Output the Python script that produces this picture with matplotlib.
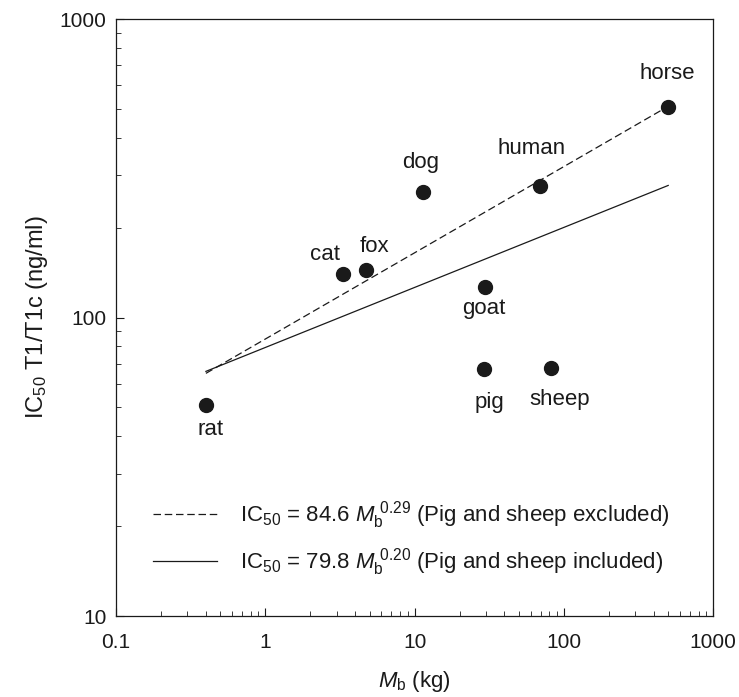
'''
IC50 of T1/T1c vs body mass, log-log scatter with two allometric fits
'''

import matplotlib
matplotlib.use('Agg')
import matplotlib.pyplot as plt
from matplotlib.ticker import LogLocator, FuncFormatter, NullFormatter

plt.rcParams['font.family'] = ['Liberation Sans', 'DejaVu Sans']
plt.rcParams['mathtext.fontset'] = 'custom'
plt.rcParams['mathtext.rm'] = 'Liberation Sans'
plt.rcParams['mathtext.it'] = 'Liberation Sans:italic'
plt.rcParams['mathtext.bf'] = 'Liberation Sans:bold'

#Species, body mass (kg) and IC50 (ng/ml)
species = ['rat', 'cat', 'fox', 'dog', 'human', 'horse', 'goat', 'pig', 'sheep']
mass = [0.4, 3.3, 4.7, 11.4, 69, 500, 29.7, 29.3, 82]
ic50 = [51, 140, 144, 263, 276, 507, 127, 67, 68]

#Fit lines, endpoints
fit_excl_x = [0.4, 500]
fit_excl_y = [65, 510]
fit_incl_x = [0.4, 500]
fit_incl_y = [66, 277]

#label offsets in points (dx, dy) relative to each dot
offsets = {'rat': (3, -18), 'cat': (-13, 14), 'fox': (6, 17), 'dog': (-2, 21),
           'human': (-6, 27), 'horse': (-1, 24), 'goat': (-1, -16),
           'pig': (4, -24), 'sheep': (6, -23)}

ink = '#1a1a1a'
fs = 15

fig = plt.figure(figsize=[7.39, 6.97], dpi=100)
ax = fig.add_axes([0.157, 0.1162, 0.808, 0.8565])

ax.plot(fit_excl_x, fit_excl_y, color=ink, lw=0.9, dashes=(6, 3),
        label=r'IC$_{50}$ = 84.6 $M_\mathrm{b}^{\ 0.29}$ (Pig and sheep excluded)')
ax.plot(fit_incl_x, fit_incl_y, color=ink, lw=0.9,
        label=r'IC$_{50}$ = 79.8 $M_\mathrm{b}^{\ 0.20}$ (Pig and sheep included)')
ax.plot(mass, ic50, 'o', color=ink, ms=10, zorder=3)

for s, m, v in zip(species, mass, ic50):
    ax.annotate(s, (m, v), xytext=offsets[s], textcoords='offset points',
                ha='center', va='center', fontsize=16, color=ink)

ax.set_xscale('log')
ax.set_yscale('log')
ax.set_xlim(0.1, 1000)
ax.set_ylim(10, 1000)

fmt = FuncFormatter(lambda v, p: '%g' % v)
ax.xaxis.set_major_locator(LogLocator(base=10, numticks=10))
ax.yaxis.set_major_locator(LogLocator(base=10, numticks=10))
ax.xaxis.set_minor_locator(LogLocator(base=10, subs=range(2, 10), numticks=10))
ax.yaxis.set_minor_locator(LogLocator(base=10, subs=range(2, 10), numticks=10))
ax.xaxis.set_major_formatter(fmt)
ax.yaxis.set_major_formatter(fmt)
ax.xaxis.set_minor_formatter(NullFormatter())
ax.yaxis.set_minor_formatter(NullFormatter())

ax.tick_params(which='both', direction='in', top=False, right=False, colors=ink,
               labelsize=fs)
ax.tick_params(which='major', length=6, width=0.8)
ax.tick_params(which='minor', length=3.5, width=0.6)
ax.tick_params(axis='x', pad=12.5)
ax.tick_params(axis='y', pad=7)

for sp in ax.spines.values():
    sp.set_color(ink)
    sp.set_linewidth(0.9)

ax.set_xlabel(r'$M_\mathrm{b}$ (kg)', fontsize=16, color=ink, labelpad=12)
ax.set_ylabel(r'IC$_{50}$ T1/T1c (ng/ml)', fontsize=17, color=ink, labelpad=7)

ax.legend(loc='lower left', bbox_to_anchor=(0.062, 0.063), frameon=False,
          fontsize=16, handlelength=2.9, handletextpad=1.0, labelspacing=0.7,
          borderpad=0, borderaxespad=0, labelcolor=ink)

fig.savefig('out.png', dpi=100, facecolor='white')
